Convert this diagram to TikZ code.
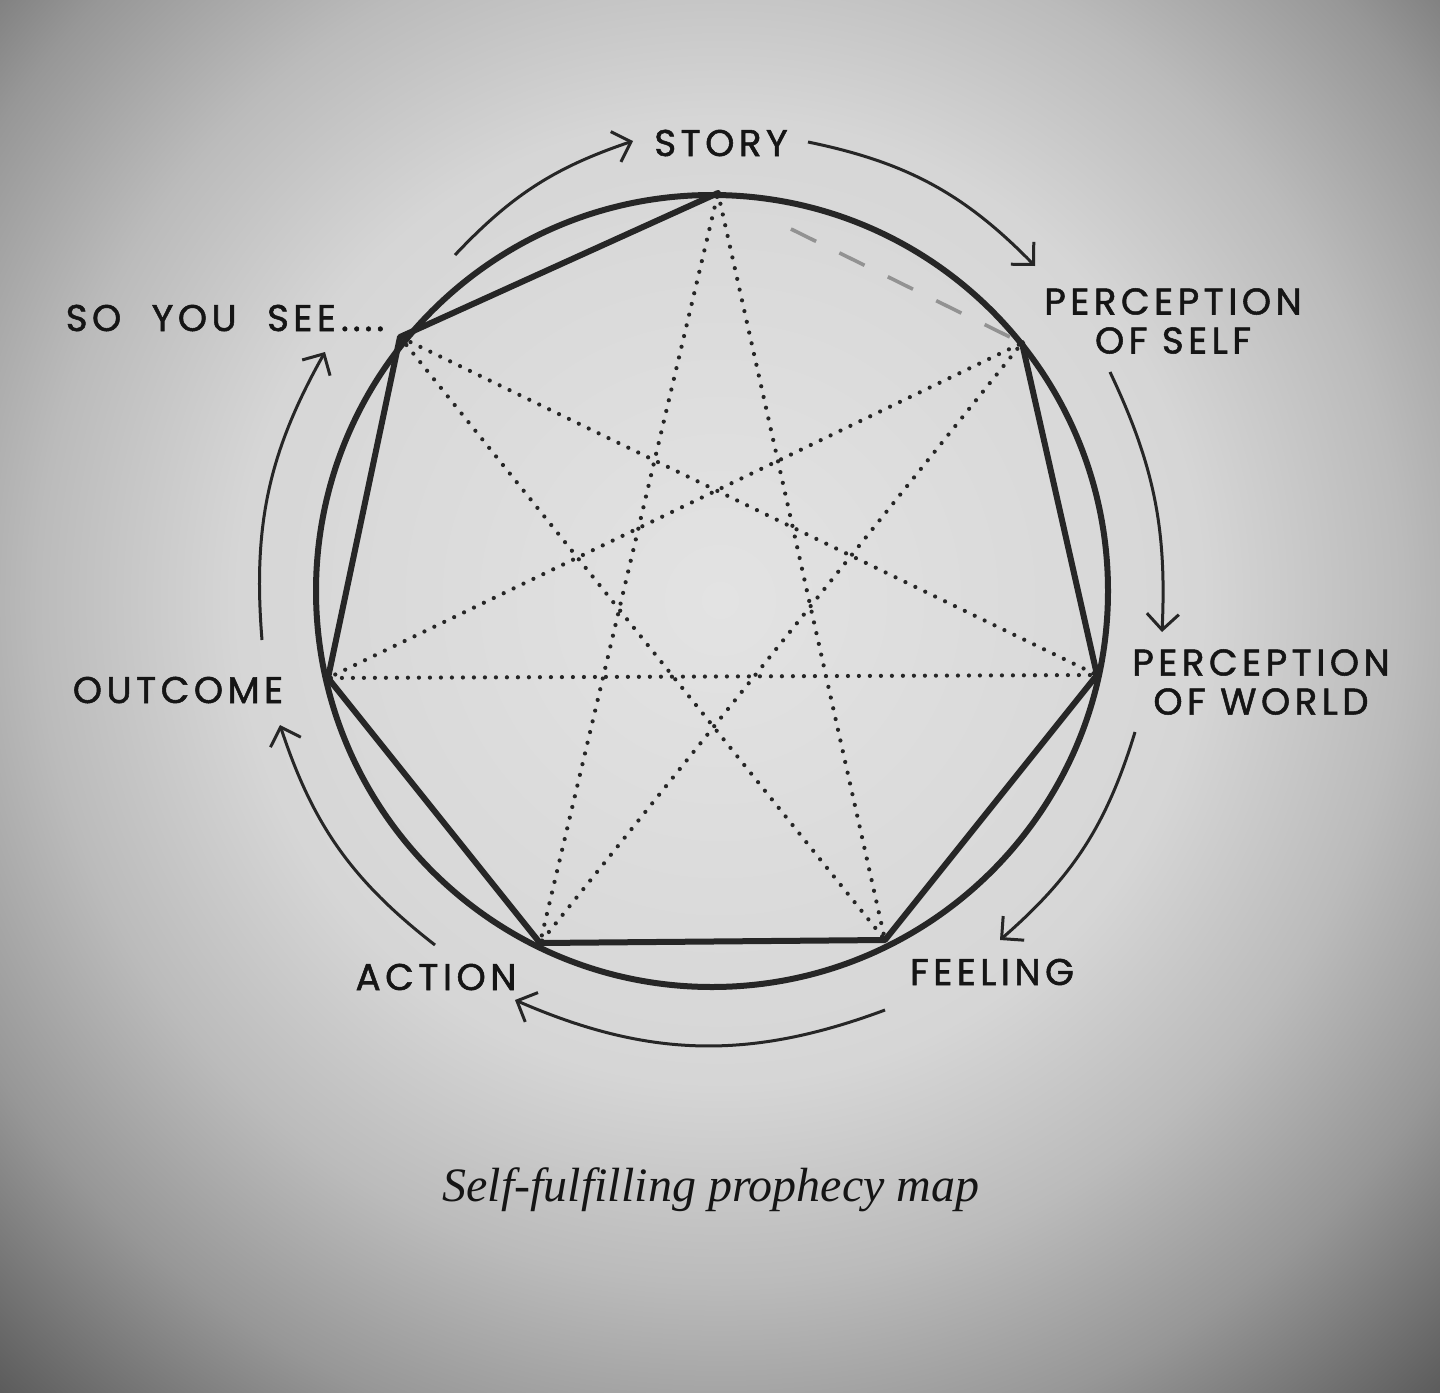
\documentclass[tikz,border=0pt]{standalone}
\usepackage{fontspec}
\newfontfamily\labfont{Poppins}[LetterSpace=12.0,FakeBold=1.4]
\newfontfamily\capfont{Liberation Serif}
\usetikzlibrary{arrows.meta,calc}
\definecolor{ink}{HTML}{151515}
\definecolor{pen}{HTML}{262626}
\definecolor{p0}{HTML}{E3E3E3}
\definecolor{p1}{HTML}{D6D6D6}
\definecolor{p2}{HTML}{BBBBBB}
\definecolor{p3}{HTML}{979797}
\definecolor{p4}{HTML}{555555}
\pgfdeclareradialshading{paper}{\pgfpoint{0bp}{0bp}}{color(0bp)=(p0); color(240bp)=(p1); color(340bp)=(p2); color(430bp)=(p3); color(545bp)=(p4); color(570bp)=(p4)}
\begin{document}
\begin{tikzpicture}[x=0.5pt,y=0.5pt,
  lab/.style={font=\labfont\fontsize{18.6}{19.5}\selectfont, text=ink, inner sep=0pt, align=center},
  rim/.style={draw=pen, line width=3pt},
  hept/.style={draw=pen, line width=3pt, line join=round, line cap=round},
  faint/.style={draw=pen!50, line width=1.8pt, dash pattern=on 14pt off 13pt},
  starline/.style={draw=pen, line width=2.1pt, line cap=round, dash pattern=on 0pt off 5.5pt},
  flow/.style={draw=pen, line width=1.5pt, -{Straight Barb[length=8pt,width=16pt,line width=1.5pt]}},
  captext/.style={font=\capfont\itshape\fontsize{24}{28}\selectfont, text=ink, inner sep=0pt}]
\path[use as bounding box] (0,0) rectangle (1440,-1392);
\begin{scope}
\clip (0,0) rectangle (1440,-1392);
\node[inner sep=0pt, outer sep=0pt] (paper) at (720,-600) {\pgfuseshading{paper}};
\end{scope}
% centre and vertices
\coordinate (C) at (712,-591);
\coordinate (V0) at (718,-193);
\coordinate (V1) at (1022,-343);
\coordinate (V2) at (1097,-675);
\coordinate (V3) at (885,-940);
\coordinate (V4) at (540,-943);
\coordinate (V5) at (328,-678);
\coordinate (V6) at (400,-337);
\coordinate (F0) at ($(V0)!0.24!(V1)$);
% circle
\draw[rim] (C) circle[radius=396];
% heptagram (dotted)
\draw[starline] (V0) -- (V3) -- (V6) -- (V2) -- (V5) -- (V1) -- (V4) -- cycle;
% heptagon
\draw[faint] (F0) -- (V1);
\draw[hept] (V1) -- (V2) -- (V3) -- (V4) -- (V5) -- (V6) -- (V0);
% labels
\node[lab] (story) at (721,-143) {STORY};
\node[lab] (pself) at (1173,-321) {PERCEPTION\\OF SELF};
\node[lab] (pworld) at (1261,-682) {PERCEPTION\\OF WORLD};
\node[lab] (feeling) at (992,-972) {FEELING};
\node[lab] (action) at (436,-977) {ACTION};
\node[lab] (outcome) at (178,-690) {OUTCOME};
\node[lab] (soyousee) at (225,-318) {SO\hspace{8pt} YOU\hspace{8pt} SEE\hspace{2.5pt}.\hspace{2pt}.\hspace{2pt}.\hspace{2pt}.};
\node[captext] (caption) at (711,-1190) {Self-fulfilling prophecy map};
% arrow end points
\coordinate (a1s) at (455,-255);  \coordinate (a1e) at (633,-141);
\coordinate (a2s) at (808,-142);  \coordinate (a2e) at (1035,-266);
\coordinate (a3s) at (1110,-372); \coordinate (a3e) at (1162,-632);
\coordinate (a4s) at (1135,-732); \coordinate (a4e) at (1000,-940);
\coordinate (a5s) at (885,-1010); \coordinate (a5e) at (515,-1000);
\coordinate (a6s) at (435,-945);  \coordinate (a6e) at (280,-725);
\coordinate (a7s) at (262,-640);  \coordinate (a7e) at (325,-352);
\draw[flow] (a1s) to[bend left=14] (a1e);
\draw[flow] (a2s) to[bend left=17] (a2e);
\draw[flow] (a3s) to[bend left=14] (a3e);
\draw[flow] (a4s) to[bend left=16] (a4e);
\draw[flow] (a5s) to[bend left=22] (a5e);
\draw[flow] (a6s) to[bend left=17] (a6e);
\draw[flow] (a7s) to[bend left=17] (a7e);
\end{tikzpicture}
\end{document}
